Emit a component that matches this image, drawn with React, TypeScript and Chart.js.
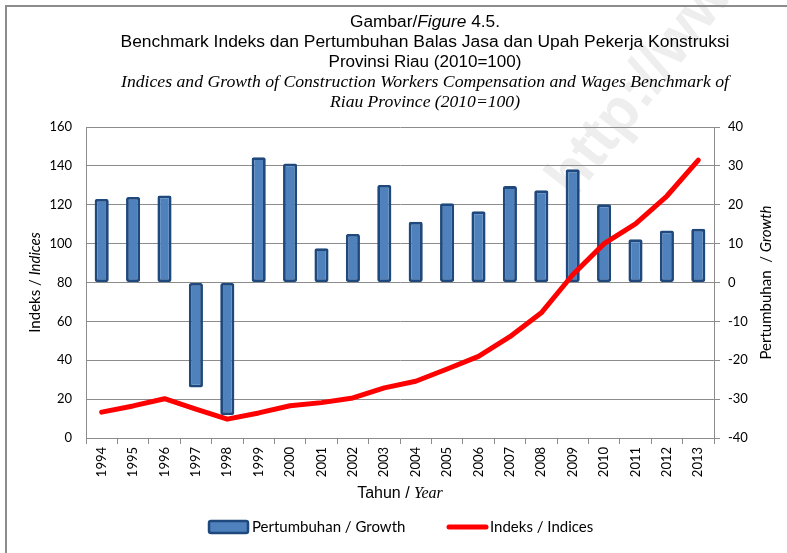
import React, { useEffect, useRef } from "react";
import { Chart, registerables } from "chart.js";

Chart.register(...registerables);

const years = ["1994","1995","1996","1997","1998","1999","2000","2001","2002","2003","2004","2005","2006","2007","2008","2009","2010","2011","2012","2013"];
const growth = [21.5, 22.0, 22.4, -27.0, -34.1, 32.2, 30.6, 8.8, 12.5, 25.1, 15.6, 20.4, 18.3, 24.8, 23.7, 29.1, 20.1, 11.1, 13.4, 13.8];
const indices = [13.3, 16.5, 20.2, 14.8, 9.7, 12.9, 16.6, 18.2, 20.6, 25.8, 29.2, 35.5, 42.0, 52.1, 64.4, 84.0, 100.0, 110.2, 124.5, 143.0];
const leftTicks = [0, 20, 40, 60, 80, 100, 120, 140, 160];
const rightTicks = [-40, -30, -20, -10, 0, 10, 20, 30, 40];

const titleLines = [
  { segs: [["Gambar/", "16px 'Liberation Sans', Arial"], ["Figure", "italic 16px 'Liberation Sans', Arial"], [" 4.5.", "16px 'Liberation Sans', Arial"]], y: 27, w: 150 },
  { segs: [["Benchmark Indeks dan Pertumbuhan Balas Jasa dan Upah Pekerja Konstruksi", "16px 'Liberation Sans', Arial"]], y: 47, w: 609 },
  { segs: [["Provinsi Riau (2010=100)", "16px 'Liberation Sans', Arial"]], y: 67, w: 193 },
  { segs: [["Indices and Growth of Construction Workers Compensation and Wages Benchmark of", "italic 16px 'Liberation Serif', 'Times New Roman'"]], y: 87, w: 608 },
  { segs: [["Riau Province (2010=100)", "italic 16px 'Liberation Serif', 'Times New Roman'"]], y: 107, w: 190 },
];

function drawSegs(ctx: CanvasRenderingContext2D, segs: string[][], cx: number, y: number, targetW?: number) {
  let total = 0;
  const widths = segs.map(([t, f]) => { ctx.font = f; const w = ctx.measureText(t).width; total += w; return w; });
  const sx = targetW ? targetW / total : 1;
  ctx.save();
  ctx.translate(cx - (total * sx) / 2, y);
  ctx.scale(sx, 1);
  let x = 0;
  segs.forEach(([t, f], i) => { ctx.font = f; ctx.fillText(t, x, 0); x += widths[i]; });
  ctx.restore();
}

const decor = {
  id: "decor",
  beforeDraw(chart: any) {
    const ctx = chart.ctx as CanvasRenderingContext2D;
    ctx.save();
    ctx.fillStyle = "#ffffff";
    ctx.fillRect(0, 0, chart.width, chart.height);
    // watermark
    ctx.translate(574, 200);
    ctx.rotate(-52 * Math.PI / 180);
    ctx.font = "bold 60px 'Liberation Sans', Arial";
    ctx.fillStyle = "#eeeeee";
    ctx.textBaseline = "alphabetic";
    ctx.fillText("http://www.", 0, 0);
    ctx.restore();
    // frame
    ctx.save();
    ctx.strokeStyle = "#8c8c8c";
    ctx.lineWidth = 2;
    ctx.beginPath();
    ctx.moveTo(6, chart.height);
    ctx.lineTo(6, 6);
    ctx.lineTo(chart.width, 6);
    ctx.stroke();
    ctx.restore();
  },
  afterDraw(chart: any) {
    const ctx = chart.ctx as CanvasRenderingContext2D;
    const area = chart.chartArea;
    ctx.save();
    ctx.fillStyle = "#000000";
    ctx.textBaseline = "alphabetic";
    titleLines.forEach((l) => drawSegs(ctx, l.segs, 425, l.y, l.w));
    // x axis title
    ctx.textBaseline = "middle";
    drawSegs(ctx, [["Tahun / ", "16px 'Liberation Sans', Arial"], ["Year", "italic 16px 'Liberation Serif', 'Times New Roman'"]], (area.left + area.right) / 2, 494);
    // left title
    ctx.save();
    ctx.translate(35, (area.top + area.bottom) / 2);
    ctx.rotate(-Math.PI / 2);
    drawSegs(ctx, [["Indeks / ", "15px Lato"], ["Indices", "italic 15px Lato"]], 0, 0);
    ctx.restore();
    // right title
    ctx.save();
    ctx.translate(766, (area.top + area.bottom) / 2);
    ctx.rotate(-Math.PI / 2);
    drawSegs(ctx, [["Pertumbuhan  / ", "15px Lato"], ["Growth", "italic 15px Lato"]], 0, 0);
    ctx.restore();
    // legend
    const ds0 = chart.data.datasets[0];
    const ds1 = chart.data.datasets[1];
    const ly = 527;
    ctx.fillStyle = ds0.backgroundColor;
    ctx.strokeStyle = ds0.borderColor;
    ctx.lineWidth = 2.5;
    ctx.beginPath();
    (ctx as any).roundRect(209, ly - 6, 39, 12, 2);
    ctx.fill();
    ctx.stroke();
    ctx.fillStyle = "#000";
    ctx.font = "15px Lato";
    ctx.textAlign = "left";
    ctx.fillText("Pertumbuhan / Growth", 252, ly);
    ctx.strokeStyle = ds1.borderColor;
    ctx.lineWidth = 5;
    ctx.lineCap = "round";
    ctx.beginPath();
    ctx.moveTo(449, ly);
    ctx.lineTo(486, ly);
    ctx.stroke();
    ctx.fillText("Indeks / Indices", 490, ly);
    ctx.restore();
  },
};

export default function App() {
  const ref = useRef<HTMLCanvasElement>(null);
  useEffect(() => {
    if (!ref.current) return;
    const grid = "#8c8c8c";
    const chart = new Chart(ref.current, {
      type: "bar",
      data: {
        labels: years,
        datasets: [
          {
            type: "bar",
            label: "Pertumbuhan / Growth",
            data: growth,
            yAxisID: "y1",
            backgroundColor: "#4F81BD",
            borderColor: "#1F497D",
            borderWidth: 2.8,
            borderSkipped: false,
            borderRadius: 2,
            categoryPercentage: 0.9,
            barPercentage: 0.5,
            order: 2,
          } as any,
          {
            type: "line",
            label: "Indeks / Indices",
            data: indices,
            yAxisID: "y",
            borderColor: "#FF0000",
            backgroundColor: "#FF0000",
            borderWidth: 5,
            pointRadius: 0,
            tension: 0,
            borderJoinStyle: "round",
            borderCapStyle: "round",
            order: 1,
          } as any,
        ],
      },
      options: {
        responsive: false,
        animation: false,
        maintainAspectRatio: false,
        layout: { padding: { top: 127, left: 0, right: 0, bottom: 0 } },
        plugins: { legend: { display: false }, title: { display: false }, tooltip: { enabled: false } },
        scales: {
          x: {
            offset: true,
            grid: { offset: true, drawOnChartArea: false, drawTicks: true, tickLength: 6, color: grid },
            border: { color: grid, width: 1 },
            ticks: { minRotation: 90, maxRotation: 90, autoSkip: false, padding: 3, color: "#000", font: { family: "Lato", size: 13 } },
            afterFit: (s: any) => { s.height = 115; },
          },
          y: {
            position: "left",
            min: 0,
            max: 160,
            afterBuildTicks: (s: any) => { s.ticks = leftTicks.map((v) => ({ value: v })); },
            grid: { color: grid, drawTicks: false, lineWidth: 1 },
            border: { color: grid, width: 1 },
            ticks: { padding: 14, color: "#000", font: { family: "Lato", size: 13 } },
            afterFit: (s: any) => { s.width = 86; },
          },
          y1: {
            position: "right",
            min: -40,
            max: 40,
            afterBuildTicks: (s: any) => { s.ticks = rightTicks.map((v) => ({ value: v })); },
            grid: { drawOnChartArea: false, drawTicks: true, tickLength: 6, color: grid },
            border: { color: grid, width: 1 },
            ticks: { padding: 8, color: "#000", font: { family: "Lato", size: 13 } },
            afterFit: (s: any) => { s.width = 73; },
          },
        },
      },
      plugins: [decor],
    });
    return () => chart.destroy();
  }, []);
  return (
    <div style={{ position: "fixed", left: 0, top: 0, width: 787, height: 553, background: "#fff" }}>
      <canvas ref={ref} width={787} height={553} style={{ width: 787, height: 553, display: "block" }} />
    </div>
  );
}
